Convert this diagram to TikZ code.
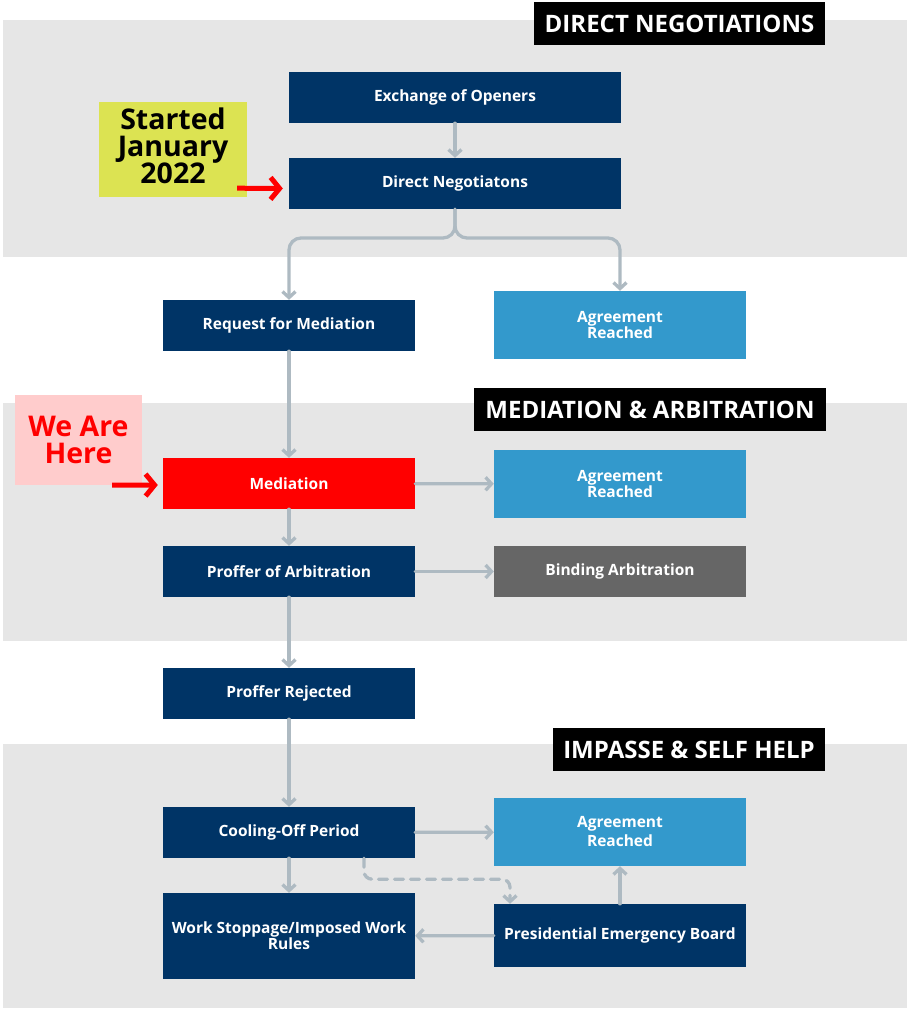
\documentclass[tikz,border=0pt]{standalone}
\usepackage{fontspec}
\setmainfont{Open Sans}
\usetikzlibrary{arrows.meta}
\definecolor{navy}{HTML}{003466}
\definecolor{lblue}{HTML}{3399CC}
\definecolor{bgray}{HTML}{666666}
\definecolor{band}{HTML}{E6E6E6}
\definecolor{conn}{HTML}{AEBAC2}
\definecolor{yel}{HTML}{DCE352}
\definecolor{pink}{HTML}{FFCCCC}
\tikzset{
  box/.style={rectangle, inner sep=0pt, text=white, align=center,
    font=\bfseries\fontsize{15.5}{16}\selectfont, minimum width=252pt, minimum height=51pt},
  navybox/.style={box, fill=navy},
  agbox/.style={box, fill=lblue, minimum height=68pt},
  header/.style={rectangle, inner sep=0pt, fill=black, text=white,
    font=\bfseries\fontsize{24}{26}\selectfont, minimum height=43pt},
  connector/.style={draw=conn, line width=3.3pt, line cap=round, line join=round,
    -{Straight Barb[length=6pt, width=13pt, line width=3.3pt]}},
  redarrow/.style={draw=red, line width=5pt,
    -{Straight Barb[length=9pt, width=22pt, line width=5pt]}},
  note/.style={rectangle, inner sep=0pt, align=center,
    font=\bfseries\fontsize{28.5}{27}\selectfont}
}
\begin{document}
\begin{tikzpicture}[x=1pt, y=-1pt]
\useasboundingbox (0,0) rectangle (911,1010);
\fill[white] (0,0) rectangle (911,1010);
% bands
\fill[band] (3,20) rectangle (907,257);
\fill[band] (3,403) rectangle (907,641);
\fill[band] (3,744) rectangle (907,1008);
% headers
\node[header, minimum width=291pt] (h1) at (679.5,23.5) {DIRECT NEGOTIATIONS};
\node[header, minimum width=352pt] (h2) at (650,409.5) {MEDIATION \& ARBITRATION};
\node[header, minimum width=272pt] (h3) at (689,749.5) {IMPASSE \& SELF HELP};
% nodes
\node[navybox, minimum width=332pt] (ex) at (455,97.5) {Exchange of Openers};
\node[navybox, minimum width=332pt] (dn) at (455,183.5) {Direct Negotiatons};
\node[navybox] (req) at (289,325.5) {Request for Mediation};
\node[agbox] (ag1) at (620,325) {Agreement\\Reached};
\node[box, fill=red] (med) at (289,483.5) {Mediation};
\node[agbox] (ag2) at (620,484) {Agreement\\Reached};
\node[navybox] (pro) at (289,571.5) {Proffer of Arbitration};
\node[box, fill=bgray] (bind) at (620,571.5) {Binding Arbitration};
\node[navybox] (rej) at (289,693.5) {Proffer Rejected};
\node[navybox] (cool) at (289,832.5) {Cooling-Off Period};
\node[agbox] (ag3) at (620,832) {Agreement\\[3pt]Reached};
\node[navybox, minimum height=86pt] (work) at (289,936) {Work Stoppage/Imposed Work\\Rules};
\node[navybox, minimum height=63pt] (peb) at (620,935.5) {Presidential Emergency Board};
% notes
\node[note, fill=yel, minimum width=148pt, minimum height=95pt] (st) at (173,149.5) {\raisebox{1pt}{\begin{tabular}{@{}c@{}}Started\\[-1.5pt]January\\[-1.5pt]2022\end{tabular}}};
\node[note, fill=pink, text=red, minimum width=127pt, minimum height=90pt] (wah) at (78.5,440) {We Are\\Here};
% connectors
\draw[connector] (ex) -- (dn);
\draw[connector, rounded corners=12pt] (dn.south) -- (455,238) -| (req.north);
\draw[connector, rounded corners=12pt] (dn.south) -- (455,238) -| (ag1.north);
\draw[connector] (req) -- (med);
\draw[connector] (med) -- (ag2);
\draw[connector] (med) -- (pro);
\draw[connector] (pro) -- (bind);
\draw[connector] (pro) -- (rej);
\draw[connector] (rej) -- (cool);
\draw[connector] (cool) -- (ag3);
\draw[connector] (cool) -- (work);
\draw[connector, dashed, dash pattern=on 9pt off 7pt, rounded corners=8pt] ([xshift=75pt]cool.south) -- ++(0,-21pt) -| ([xshift=-110pt]peb.north);
\draw[connector] (peb) -- (work);
\draw[connector] (peb) -- (ag3);
% red arrows
\draw[redarrow, shorten >=6pt] ([xshift=-10pt,yshift=9pt]st.south east) -- ([yshift=-5pt]dn.west);
\draw[redarrow, shorten >=5pt] ([xshift=-30pt]wah.south east) -- ([yshift=-1.5pt]med.west);
\end{tikzpicture}
\end{document}
